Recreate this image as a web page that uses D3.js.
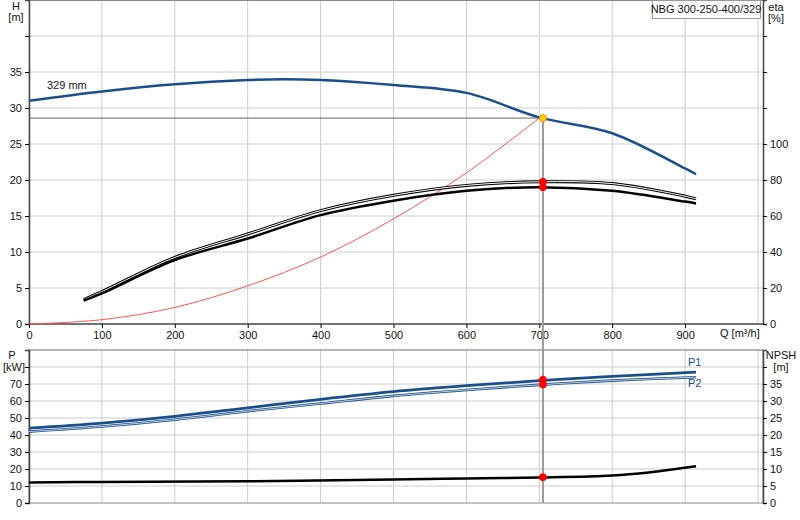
<!DOCTYPE html>
<html><head><meta charset="utf-8">
<script src="https://cdn.jsdelivr.net/npm/d3@7"></script>
<style>body{margin:0;background:#fff}text{font-family:"Liberation Sans",Arial,sans-serif;font-size:11px;fill:#111}</style>
</head><body><div class="canvas"></div>
<script>
// curve data, Q in m3/h
const headQ = [0, 100, 200, 300, 350, 400, 500, 600, 700, 800, 900, 915];
const headH = [31, 32.3, 33.3, 33.9, 34, 33.9, 33.2, 32.1, 28.7, 26.5, 21.6, 20.8];
const etaQ = [75, 100, 200, 300, 400, 500, 600, 700, 800, 900, 915];
const etaUpper = [13.6, 18, 37, 50, 63, 71.5, 77, 79, 78, 71, 69.5];
const etaLower = [13, 17, 35.5, 47.5, 60.5, 68.5, 74, 76, 74, 68, 67];
const sysQ = [0, 100, 200, 300, 400, 500, 600, 700];
const sysH = [0, 0.6, 2.3, 5.3, 9.3, 14.6, 21, 28.6];
const powQ = [0, 100, 200, 300, 400, 500, 600, 700, 800, 915];
const p1 = [44, 47, 51, 56, 61, 65.5, 69, 72, 74.5, 77];
const p2 = [42, 45, 49, 54, 58.5, 63, 66.5, 69.5, 72, 74];
const npshQ = [0, 100, 300, 500, 600, 700, 800, 850, 915];
const npsh = [6, 6.2, 6.4, 6.9, 7.2, 7.5, 8.1, 9, 10.8];
const duty = { q: 705, h: 28.6, eta1: 79, eta2: 76, p1: 72.5, p2: 69.7, npsh: 7.6 };
const qTicks = [0, 100, 200, 300, 400, 500, 600, 700, 800, 900];

const svg = d3.select('.canvas').append('svg').attr('width', 800).attr('height', 520);

const x = d3.scaleLinear().domain([0, 1000]).range([29, 758]);
const yH = d3.scaleLinear().domain([0, 45]).range([324, 0]);
const yEta = d3.scaleLinear().domain([0, 180]).range([324, 0]);
const yP = d3.scaleLinear().domain([0, 90]).range([503, 350]);
const yN = d3.scaleLinear().domain([0, 45]).range([503, 350]);
const L = 29, R = 763;

// grids
const grid = (top, bot, yScale, vals) => {
  const g = svg.append('g').attr('stroke', '#ccc').attr('stroke-width', 1);
  qTicks.concat([1000]).forEach(q => g.append('line').attr('x1', x(q)).attr('x2', x(q)).attr('y1', top).attr('y2', bot));
  vals.forEach(v => g.append('line').attr('x1', L).attr('x2', R).attr('y1', yScale(v)).attr('y2', yScale(v)));
};
grid(0, 324, yH, d3.range(5, 46, 5));
grid(350, 503, yP, d3.range(10, 91, 10));
svg.append('rect').attr('x', L).attr('y', 350).attr('width', R - L).attr('height', 153)
  .attr('fill', 'none').attr('stroke', '#888');
svg.append('line').attr('x1', L).attr('x2', R).attr('y1', 0.5).attr('y2', 0.5).attr('stroke', '#888');

// axes
const tickFmt = max => d => d <= max ? d : '';
svg.append('g').attr('transform', `translate(${L},0)`)
  .call(d3.axisLeft(yH).tickValues(d3.range(0, 41, 5)).tickSize(4).tickFormat(tickFmt(35)));
svg.append('g').attr('transform', `translate(${R},0)`)
  .call(d3.axisRight(yEta).tickValues(d3.range(0, 161, 20)).tickSize(4).tickFormat(tickFmt(100)));
svg.append('g').attr('transform', 'translate(0,324)')
  .call(d3.axisBottom(x).tickValues(qTicks).tickSize(4)).select('.domain').attr('d', `M${L},0H${R}`);
svg.append('g').attr('transform', `translate(${L},0)`)
  .call(d3.axisLeft(yP).tickValues(d3.range(0, 81, 10)).tickSize(4).tickFormat(tickFmt(70)));
svg.append('g').attr('transform', `translate(${R},0)`)
  .call(d3.axisRight(yN).tickValues(d3.range(0, 41, 5)).tickSize(4).tickFormat(tickFmt(35)));
svg.selectAll('.domain').attr('stroke', '#444').attr('stroke-width', 1.5);
svg.selectAll('.tick text').style('font-size', '11px').style('font-family', '"Liberation Sans", Arial, sans-serif');

// axis titles
const label = (t, px, py, anchor = 'start', fill = '#111') =>
  svg.append('text').attr('x', px).attr('y', py).attr('text-anchor', anchor).style('fill', fill).text(t);
label('H', 16, 10, 'middle'); label('[m]', 16, 21, 'middle');
label('eta', 776, 11, 'middle'); label('[%]', 776, 22, 'middle');
label('Q [m³/h]', 720, 337);
label('P', 12, 359, 'middle'); label('[kW]', 14, 371, 'middle');
label('NPSH', 781, 359, 'middle'); label('[m]', 781, 371, 'middle');
label('329 mm', 47, 89);

// legend box
svg.append('rect').attr('x', 652.5).attr('y', 0.5).attr('width', 108).attr('height', 18)
  .attr('fill', '#fff').attr('stroke', '#999');
label('NBG 300-250-400/329', 706, 13, 'middle');

// duty lines
svg.append('line').attr('x1', L).attr('x2', x(duty.q)).attr('y1', yH(duty.h)).attr('y2', yH(duty.h))
  .attr('stroke', '#666');
svg.append('line').attr('x1', x(duty.q)).attr('x2', x(duty.q)).attr('y1', yH(duty.h)).attr('y2', 503)
  .attr('stroke', '#999').attr('stroke-width', 2);

const line = (qs, vs, ys) => d3.line().curve(d3.curveCatmullRom)
  .x((d, i) => x(qs[i])).y(d => ys(d))(vs);
const path = (d, color, w) => svg.append('path').attr('d', d).attr('fill', 'none')
  .attr('stroke', color).attr('stroke-width', w);

// top chart curves
path(line(sysQ, sysH, yH), '#f55', 1);
path(line(headQ, headH, yH), '#1b4f8c', 2.5);
path(line(etaQ, etaUpper, yEta), '#000', 3);
path(line(etaQ, etaUpper, yEta), '#fff', 1);
path(line(etaQ, etaLower, yEta), '#000', 2.5);

// bottom chart curves
path(line(powQ, p1, yP), '#1b4f8c', 2.8);
path(line(powQ, p2, yP), '#1b4f8c', 2.6);
path(line(powQ, p2, yP), '#e8eef5', 0.8);
path(line(npshQ, npsh, yN), '#000', 2.5);
label('P1', 688, 366, 'start', '#1b4f8c');
label('P2', 688, 387, 'start', '#1b4f8c');

// duty markers
const dot = (py, fill) => svg.append('circle').attr('cx', x(duty.q)).attr('cy', py).attr('r', 3.5)
  .attr('fill', fill).attr('stroke', fill === 'red' ? 'red' : '#f80');
dot(yEta(duty.eta1), 'red'); dot(yEta(duty.eta2), 'red');
dot(yP(duty.p1), 'red'); dot(yP(duty.p2), 'red'); dot(yN(duty.npsh), 'red');
dot(yH(duty.h), '#ffd700');
</script></body></html>
